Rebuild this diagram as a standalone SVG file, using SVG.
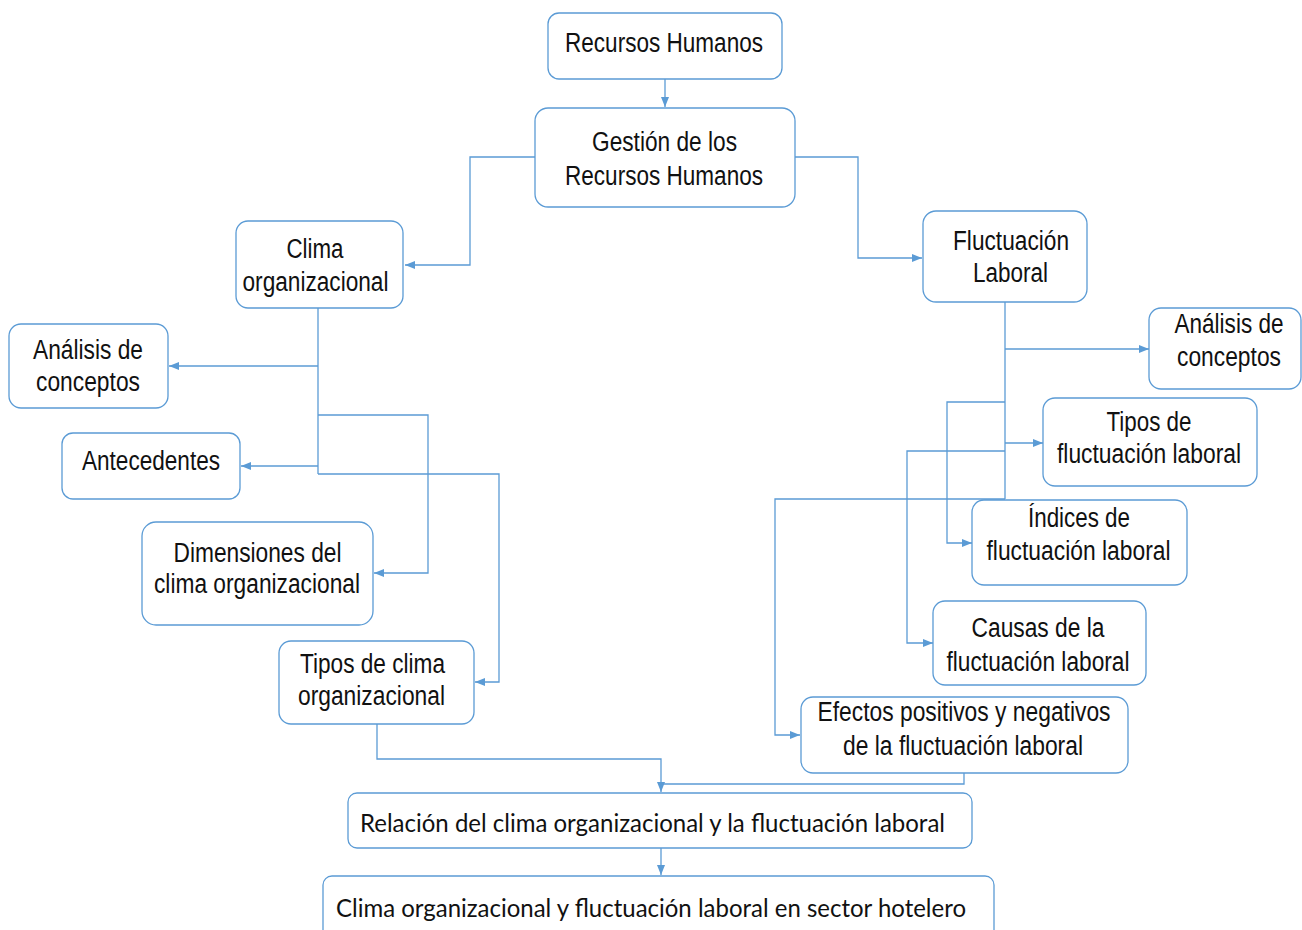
<svg xmlns="http://www.w3.org/2000/svg" width="1302" height="930" viewBox="0 0 1302 930">
<defs>
<style>
.box{fill:#fff;stroke:#5B9BD5;stroke-width:1.3}
.t{font-family:"Liberation Sans",Arial,sans-serif;font-size:27px;fill:#111;text-anchor:middle}
.c{font-family:Lato,"Liberation Sans",sans-serif;font-size:25px;fill:#111;text-anchor:middle}
.ln{fill:none;stroke:#5B9BD5;stroke-width:1.3;marker-end:url(#ar)}
.pl{fill:none;stroke:#5B9BD5;stroke-width:1.3}
</style>
<marker id="ar" markerUnits="userSpaceOnUse" markerWidth="10" markerHeight="10" viewBox="0 0 10 10" refX="10" refY="5" orient="auto">
<path d="M0,1 L10,5 L0,9 Z" fill="#5B9BD5"/>
</marker>
</defs>
<rect width="1302" height="930" fill="#fff"/>
<g id="connectors">
<path class="ln" d="M665,79 V107"/>
<path class="ln" d="M535,157 H470 V265 H405"/>
<path class="ln" d="M795,157 H858 V258 H922"/>
<path class="pl" d="M318,308 V474"/>
<path class="ln" d="M318,366 H169"/>
<path class="ln" d="M318,466 H241"/>
<path class="ln" d="M318,415 H428 V573 H374"/>
<path class="ln" d="M318,474 H499 V682 H475"/>
<path class="pl" d="M1005,302 V499"/>
<path class="ln" d="M1005,349 H1149"/>
<path class="ln" d="M1005,443 H1043"/>
<path class="ln" d="M1005,402 H947 V543 H972"/>
<path class="ln" d="M1005,451 H907 V643 H933"/>
<path class="ln" d="M1005,499 H775 V735 H800"/>
<path class="ln" d="M377,724 V759 H661 V792"/>
<path class="pl" d="M964,773 V784 H661"/>
<path class="ln" d="M661,848 V875"/>
</g>
<g id="n-rh"><rect class="box" x="548" y="13" width="234" height="66" rx="11"/><text class="t" x="664" y="52" textLength="198" lengthAdjust="spacingAndGlyphs">Recursos Humanos</text></g>
<g id="n-grh"><rect class="box" x="535" y="108" width="260" height="99" rx="13"/><text class="t" x="664.5" y="151" textLength="145" lengthAdjust="spacingAndGlyphs">Gestión de los</text><text class="t" x="664" y="185" textLength="198" lengthAdjust="spacingAndGlyphs">Recursos Humanos</text></g>
<g id="n-clima"><rect class="box" x="236" y="221" width="167" height="87" rx="12"/><text class="t" x="315" y="258" textLength="57" lengthAdjust="spacingAndGlyphs">Clima</text><text class="t" x="315.5" y="291" textLength="146" lengthAdjust="spacingAndGlyphs">organizacional</text></g>
<g id="n-analisis-l"><rect class="box" x="9" y="324" width="159" height="84" rx="12"/><text class="t" x="88" y="359" textLength="110" lengthAdjust="spacingAndGlyphs">Análisis de</text><text class="t" x="88" y="391" textLength="104" lengthAdjust="spacingAndGlyphs">conceptos</text></g>
<g id="n-antecedentes"><rect class="box" x="62" y="433" width="178" height="66" rx="11"/><text class="t" x="151" y="470" textLength="138" lengthAdjust="spacingAndGlyphs">Antecedentes</text></g>
<g id="n-dimensiones"><rect class="box" x="142" y="522" width="231" height="103" rx="14"/><text class="t" x="257.5" y="562" textLength="168" lengthAdjust="spacingAndGlyphs">Dimensiones del</text><text class="t" x="257" y="593" textLength="206" lengthAdjust="spacingAndGlyphs">clima organizacional</text></g>
<g id="n-tipos-clima"><rect class="box" x="279" y="641" width="195" height="83" rx="12"/><text class="t" x="372.5" y="673" textLength="145" lengthAdjust="spacingAndGlyphs">Tipos de clima</text><text class="t" x="371.5" y="705" textLength="147" lengthAdjust="spacingAndGlyphs">organizacional</text></g>
<g id="n-fluct"><rect class="box" x="923" y="211" width="164" height="91" rx="13"/><text class="t" x="1011" y="250" textLength="116" lengthAdjust="spacingAndGlyphs">Fluctuación</text><text class="t" x="1010.5" y="282" textLength="75" lengthAdjust="spacingAndGlyphs">Laboral</text></g>
<g id="n-analisis-r"><rect class="box" x="1149" y="308" width="152" height="81" rx="12"/><text class="t" x="1229" y="333" textLength="109" lengthAdjust="spacingAndGlyphs">Análisis de</text><text class="t" x="1229" y="366" textLength="104" lengthAdjust="spacingAndGlyphs">conceptos</text></g>
<g id="n-tipos-fl"><rect class="box" x="1043" y="398" width="214" height="88" rx="12"/><text class="t" x="1149" y="431" textLength="85" lengthAdjust="spacingAndGlyphs">Tipos de</text><text class="t" x="1149" y="463" textLength="184" lengthAdjust="spacingAndGlyphs">fluctuación laboral</text></g>
<g id="n-indices"><rect class="box" x="972" y="500" width="215" height="85" rx="12"/><text class="t" x="1079" y="527" textLength="102" lengthAdjust="spacingAndGlyphs">Índices de</text><text class="t" x="1078.5" y="560" textLength="184" lengthAdjust="spacingAndGlyphs">fluctuación laboral</text></g>
<g id="n-causas"><rect class="box" x="933" y="601" width="213" height="84" rx="12"/><text class="t" x="1038" y="637" textLength="133" lengthAdjust="spacingAndGlyphs">Causas de la</text><text class="t" x="1038" y="671" textLength="183" lengthAdjust="spacingAndGlyphs">fluctuación laboral</text></g>
<g id="n-efectos"><rect class="box" x="801" y="697" width="327" height="76" rx="12"/><text class="t" x="964" y="721" textLength="293" lengthAdjust="spacingAndGlyphs">Efectos positivos y negativos</text><text class="t" x="963" y="755" textLength="240" lengthAdjust="spacingAndGlyphs">de la fluctuación laboral</text></g>
<g id="n-relacion"><rect class="box" x="348" y="793" width="624" height="55" rx="9"/><text class="c" x="652.5" y="832" textLength="585" lengthAdjust="spacingAndGlyphs">Relación del clima organizacional y la fluctuación laboral</text></g>
<g id="n-hotelero"><rect class="box" x="323" y="876" width="671" height="70" rx="9"/><text class="c" x="651" y="917" textLength="630" lengthAdjust="spacingAndGlyphs">Clima organizacional y fluctuación laboral en sector hotelero</text></g>
</svg>
